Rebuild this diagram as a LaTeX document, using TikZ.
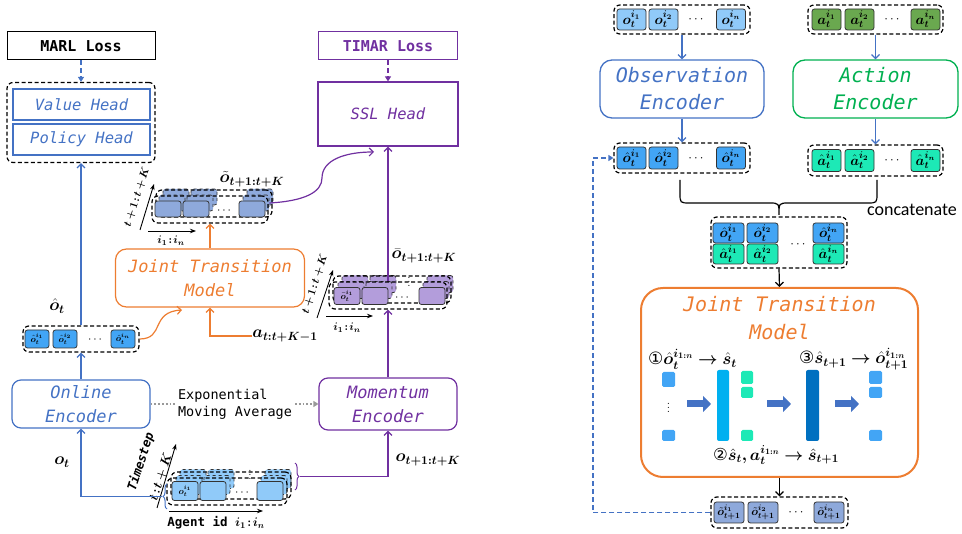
\RequirePackage{fix-cm}
\documentclass[tikz,border=0pt]{standalone}
\usepackage{amsmath}
\usepackage{bm}
\usepackage{fontspec}
\setmonofont{DejaVu Sans Mono}
\newfontfamily\calibfont{Carlito}
\newfontfamily\djvfont{DejaVu Sans}
\usetikzlibrary{arrows.meta,decorations.pathreplacing,calc}
\definecolor{blueL}{HTML}{4472C4}
\definecolor{purL}{HTML}{7030A0}
\definecolor{oraL}{HTML}{ED7D31}
\definecolor{grnL}{HTML}{00B050}
\definecolor{cRaw}{HTML}{90CAF9}
\definecolor{cHat}{HTML}{42A5F5}
\definecolor{cAct}{HTML}{6AA84F}
\definecolor{cAhat}{HTML}{1DE9B6}
\definecolor{cTil}{HTML}{8EA9DB}
\definecolor{cPur}{HTML}{B39DDB}
\definecolor{barA}{HTML}{00B0F0}
\definecolor{barB}{HTML}{0070C0}
\newcommand{\myfs}[1]{\fontsize{#1}{#1}\selectfont}
\begin{document}
\begin{tikzpicture}[x=1pt,y=-1pt,
  myarr/.style={-{Straight Barb[length=4pt,width=8pt]}},
  myfarr/.style={-{Triangle[length=5pt,width=6pt]}},
  longdash/.style={dash pattern=on 5pt off 3pt},
  mycont/.style={draw=black, line width=1.2pt, dash pattern=on 4pt off 2.5pt, rounded corners=6pt, inner sep=0pt},
  mycell/.style={draw=black!80, line width=0.8pt, rounded corners=2.5pt, inner sep=0pt},
  lossbox/.style={draw, line width=1pt, minimum height=28pt, font=\ttfamily\bfseries\myfs{15}},
  headbox/.style={draw=blueL, text=blueL, line width=1.2pt, minimum width=137pt, minimum height=31pt, font=\ttfamily\itshape\myfs{15.5}},
  encbox/.style={draw, rounded corners=9pt, line width=1.2pt, align=center, font=\ttfamily\itshape\fontsize{17}{24}\selectfont},
  bigenc/.style={draw, rounded corners=12pt, line width=1.3pt, align=center, font=\ttfamily\itshape\fontsize{20}{27}\selectfont},
  mlab/.style={inner sep=0pt, font=\myfs{17}},
  axlab/.style={inner sep=0pt, font=\myfs{11}},
  thick arrow/.style={line width=7pt, -{Triangle[length=8pt,width=16pt]}, blueL},
]
\useasboundingbox (0,0) rectangle (962,534);

%================ LEFT =================
\node[lossbox, minimum width=148pt] (marl) at (81,46) {MARL Loss};
\node[mycont, minimum width=148pt, minimum height=80pt] (headsc) at (81,122.5) {};
\node[headbox] (value) at (81.5,104.5) {Value Head};
\node[headbox] (policy) at (81.5,139.5) {Policy Head};
\draw[blueL, longdash, line width=1.2pt, myfarr] (marl.south) -- (headsc.north);

% o-hat container
\node[mycont, minimum width=116pt, minimum height=26pt] (ohc) at (81,339) {};
\foreach \cx/\s [count=\i] in {37/1,65/2,123/n}
  \node[mycell, fill=cHat, minimum width=24pt, minimum height=18pt, font=\myfs{9}] (oh\i) at (\cx,339) {$\bm{\hat o_t^{i_{\s}}}$};
\node[font=\myfs{12}, inner sep=0pt] (ohd) at (96,340) {$\cdots$};
\node[mlab] (ohlab) at (57,306) {$\bm{\hat o_t}$};
\draw[blueL, line width=1.2pt, myarr] (ohc.north) -- (headsc.south);

% encoders
\node[encbox, draw=blueL, text=blueL, minimum width=138pt, minimum height=48pt] (online) at (81,404) {Online\\Encoder};
\node[encbox, draw=purL, text=purL, minimum width=138pt, minimum height=52pt] (momentum) at (388,404) {Momentum\\Encoder};
\draw[blueL, line width=1.2pt, myarr] (online.north) -- (ohc.south);
\draw[gray!80, dotted, line width=1.8pt, myfarr] (online.east) -- (momentum.west);
\node[fill=white, inner sep=1pt, align=left, font=\ttfamily\fontsize{13.5}{17}\selectfont] (ema) at (235,404) {Exponential\\Moving Average};

% bottom stack
\foreach \cx [count=\i] in {185,213,270}
  \node[mycell, dashed, fill=cRaw, minimum width=26pt, minimum height=19pt] (bs2-\i) at (\cx+8,491-12) {};
\node[mycont, minimum width=120pt, minimum height=27pt] (bsc1) at (231,485.5) {};
\foreach \cx [count=\i] in {185,213,270}
  \node[mycell, dashed, fill=cRaw, minimum width=26pt, minimum height=19pt] (bs1-\i) at (\cx+4,491-6) {};
\node[mycont, minimum width=120pt, minimum height=27pt] (bsc) at (227,491.5) {};
\node[mycell, fill=cRaw, minimum width=26pt, minimum height=19pt, font=\myfs{9}] (bs0-1) at (185,491) {$\bm{o_t^{i_1}}$};
\node[mycell, fill=cRaw, minimum width=26pt, minimum height=19pt] (bs0-2) at (213,491) {};
\node[mycell, fill=cRaw, minimum width=26pt, minimum height=19pt] (bs0-3) at (270,491) {};
\node[font=\myfs{12}, inner sep=0pt] (bsd) at (243,493) {$\cdots$};
\node[font=\myfs{12}, inner sep=0pt] (bsd2) at (250,472) {$\vdots$};
\draw[black, line width=0.9pt, -{Stealth[length=6pt]}] (157,508) -- (176,444);
\draw[black, line width=0.9pt, -{Stealth[length=6pt]}] (169,511) -- (263,511);
\node[rotate=72, inner sep=0pt, font=\ttfamily\bfseries\itshape\myfs{12.5}] (tslab) at (141,462) {Timestep};
\node[rotate=72, inner sep=0pt, font=\myfs{13}] (tklab) at (161,477) {$\bm{t\!:\!t+K}$};
\node[inner sep=0pt, font=\ttfamily\bfseries\myfs{12.5}] (aglab) at (216,523) {Agent id $\bm{i_1\!:\!i_n}$};
\draw[blueL, line width=1pt, decorate, decoration={brace, amplitude=4pt}] (167,509) -- (167,484);
\coordinate (bb) at (162,496.5);
\draw[blueL, line width=1.2pt, myarr] (bb) -| (online.south);
\node[mlab] (otlab) at (62,462) {$\bm{o_t}$};
\draw[purL, line width=1pt, decorate, decoration={brace, amplitude=4pt}] (295,463) -- (295,490);
\coordinate (pb) at (300,476.5);
\draw[purL, line width=1.2pt, myarr] (pb) -| (momentum.south);
\node[mlab] (oklab) at (428,460) {$\bm{o_{t+1:t+K}}$};

% purple stack
\foreach \cx [count=\i] in {347,375,432}
  \node[mycell, dashed, fill=cPur, minimum width=26pt, minimum height=17pt] (ps2-\i) at (\cx+8,296-12) {};
\node[mycont, minimum width=118pt, minimum height=27pt] (pc1) at (392,289.5) {};
\foreach \cx [count=\i] in {347,375,432}
  \node[mycell, dashed, fill=cPur, minimum width=26pt, minimum height=17pt] (ps1-\i) at (\cx+4,296-6) {};
\node[mycont, minimum width=118pt, minimum height=27pt] (pc) at (388,295.5) {};
\node[mycell, fill=cPur, minimum width=26pt, minimum height=17pt, font=\myfs{9}] (ps0-1) at (347,296) {$\bm{\bar o_t^{i_1}}$};
\node[mycell, fill=cPur, minimum width=26pt, minimum height=17pt] (ps0-2) at (375,296) {};
\node[mycell, fill=cPur, minimum width=26pt, minimum height=17pt] (ps0-3) at (432,296) {};
\node[font=\myfs{12}, inner sep=0pt] (psd) at (403,298) {$\cdots$};
\node[font=\myfs{12}, inner sep=0pt] (psd2) at (409,279) {$\vdots$};
\draw[black, line width=0.9pt, -{Stealth[length=6pt]}] (317,318) -- (333,270);
\draw[black, line width=0.9pt, -{Stealth[length=6pt]}] (326,316) -- (373,316);
\node[rotate=72, axlab] (pklab) at (315,284) {$\bm{t+1\!:\!t+K}$};
\node[axlab] (pilab) at (347,328) {$\bm{i_1\!:\!i_n}$};
\node[mlab] (pclab) at (424,256) {$\bm{\bar o_{t+1:t+K}}$};
\draw[purL, line width=1.2pt, myarr] (momentum.north) -- (pc.south);

% SSL / TIMAR
\node[draw=purL, text=purL, line width=1.2pt, minimum width=140pt, minimum height=64pt, font=\ttfamily\itshape\myfs{15.5}] (ssl) at (388,114) {SSL Head};
\node[lossbox, draw=purL, text=purL, minimum width=139pt] (timar) at (388,46) {TIMAR Loss};
\draw[purL, longdash, line width=1.2pt, myfarr] (timar.south) -- (ssl.north);
\draw[purL, line width=1.2pt, myarr] (pc.north) -- (ssl.south);

% tilde stack
\foreach \cx [count=\i] in {168,196,252}
  \node[mycell, dashed, fill=cTil, minimum width=26pt, minimum height=16pt] (ts2-\i) at (\cx+8,209-12) {};
\node[mycont, minimum width=116pt, minimum height=27pt] (tc1) at (214,203.5) {};
\foreach \cx [count=\i] in {168,196,252}
  \node[mycell, dashed, fill=cTil, minimum width=26pt, minimum height=16pt] (ts1-\i) at (\cx+4,209-6) {};
\node[mycont, minimum width=116pt, minimum height=27pt] (tc) at (210,209.5) {};
\foreach \cx [count=\i] in {168,196,252}
  \node[mycell, fill=cTil, minimum width=26pt, minimum height=16pt] (ts0-\i) at (\cx,209) {};
\node[font=\myfs{12}, inner sep=0pt] (tsd) at (225,211) {$\cdots$};
\draw[black, line width=0.9pt, -{Stealth[length=6pt]}] (140,230) -- (154,184);
\draw[black, line width=0.9pt, -{Stealth[length=6pt]}] (148,231) -- (196,231);
\node[rotate=72, axlab] (tklab2) at (137,197) {$\bm{t+1\!:\!t+K}$};
\node[axlab] (tilab) at (171,241) {$\bm{i_1\!:\!i_n}$};
\node[mlab] (tclab) at (252,179) {$\bm{\tilde o_{t+1:t+K}}$};
\coordinate (sin) at (374,152);
\draw[purL, line width=1.2pt, myarr] (ts1-3.east) .. controls (305,201) and (322,192) .. (322,178) .. controls (322,160) and (345,152) .. (sin);

% joint transition model (left)
\node[encbox, draw=oraL, text=oraL, rounded corners=11pt, minimum width=189pt, minimum height=58pt] (jtmL) at (210,278) {Joint Transition\\Model};
\draw[oraL, line width=1.2pt, myarr] (jtmL.north) -- (tc.south);
\node[mlab] (alab) at (285,336) {$\bm{a_{t:t+K-1}}$};
\draw[oraL, line width=1.2pt, myarr] (alab.west) -| (jtmL.south);
\coordinate (jin) at (182,310);
\draw[oraL, line width=1.2pt, myarr] (ohc.east) .. controls (165,339) and (150,312) .. (jin);

%================ RIGHT =================
\node[mycont, minimum width=136pt, minimum height=29pt] (orc) at (682,19.5) {};
\foreach \cx/\s [count=\i] in {631.5/1,663.5/2,731/n}
  \node[mycell, fill=cRaw, minimum width=29pt, minimum height=21pt, font=\myfs{14}] (or\i) at (\cx,19.5) {$\bm{o_t^{i_{\s}}}$};
\node[font=\myfs{13}, inner sep=0pt] (ord) at (697,20) {$\cdots$};
\node[mycont, minimum width=135pt, minimum height=29pt] (arc) at (875.5,19.5) {};
\foreach \cx/\s [count=\i] in {826.5/1,859.5/2,925.5/n}
  \node[mycell, fill=cAct, minimum width=29pt, minimum height=21pt, font=\myfs{14}] (ar\i) at (\cx,19.5) {$\bm{a_t^{i_{\s}}}$};
\node[font=\myfs{13}, inner sep=0pt] (ard) at (893,20) {$\cdots$};

\node[bigenc, draw=blueL, text=blueL, minimum width=164pt, minimum height=58pt] (obsenc) at (682,89) {Observation\\Encoder};
\node[bigenc, draw=grnL, text=grnL, minimum width=165pt, minimum height=58pt] (actenc) at (875.5,89) {Action\\Encoder};
\draw[blueL, line width=1.2pt, myarr] (orc.south) -- (obsenc.north);
\draw[blueL, line width=1.2pt, myarr] (arc.south) -- (actenc.north);

\node[mycont, minimum width=136pt, minimum height=30pt] (eoc) at (682,158) {};
\foreach \cx/\s [count=\i] in {631.5/1,663.5/2,731/n}
  \node[mycell, fill=cHat, minimum width=29pt, minimum height=22pt, font=\myfs{14}] (eo\i) at (\cx,158) {$\bm{\hat o_t^{i_{\s}}}$};
\node[font=\myfs{13}, inner sep=0pt] (eod) at (697,159) {$\cdots$};
\node[mycont, minimum width=135pt, minimum height=31pt] (eac) at (875.5,160.5) {};
\foreach \cx/\s [count=\i] in {826.5/1,859.5/2,925.5/n}
  \node[mycell, fill=cAhat, minimum width=29pt, minimum height=22pt, font=\myfs{14}] (ea\i) at (\cx,160.5) {$\bm{\hat a_t^{i_{\s}}}$};
\node[font=\myfs{13}, inner sep=0pt] (ead) at (893,161) {$\cdots$};
\draw[blueL, line width=1.2pt, myarr] (obsenc.south) -- (eoc.north);
\draw[blueL, line width=1.2pt, myarr] (actenc.south) -- (eac.north);

% brace
\draw[line width=1.2pt] (680,180) -- (680,193) .. controls (680,203) .. (690,203) -- (769,203) .. controls (779,203) .. (779,215) .. controls (779,203) .. (789,203) -- (867,203) .. controls (877,203) .. (877,193) -- (877,180);
\node[inner sep=0pt, font=\calibfont\myfs{18}] (concat) at (912,210) {concatenate};

% concatenated
\node[mycont, minimum width=136pt, minimum height=51pt] (cc) at (779,242.5) {};
\foreach \cx/\s [count=\i] in {728.5/1,762.5/2,828.5/n} {
  \node[mycell, fill=cHat, minimum width=31pt, minimum height=20pt, font=\myfs{14}] (co\i) at (\cx,233) {$\bm{\hat o_t^{i_{\s}}}$};
  \node[mycell, fill=cAhat, minimum width=31pt, minimum height=20pt, font=\myfs{14}] (ca\i) at (\cx,254) {$\bm{\hat a_t^{i_{\s}}}$};
}
\node[font=\myfs{13}, inner sep=0pt] (ccd) at (799,245) {$\cdots$};

% JTM right
\node[draw=oraL, line width=2pt, rounded corners=22pt, minimum width=277pt, minimum height=189pt] (jtmR) at (779.5,382.5) {};
\node[text=oraL, align=center, font=\ttfamily\itshape\fontsize{20}{28}\selectfont] (jtmRt) at (779.5,318) {Joint Transition\\Model};
\draw[black, line width=1.2pt, myarr] (cc.south) -- (jtmR.north);

\node[anchor=west, inner sep=0pt, font=\myfs{17}] (st1) at (648,359) {{\djvfont ①}$\bm{\hat o_t^{i_{1:n}}\rightarrow \hat s_t}$};
\node[anchor=west, inner sep=0pt, font=\myfs{17}] (st3) at (799,359) {{\djvfont ③}$\bm{\hat s_{t+1}\rightarrow \hat o_{t+1}^{i_{1:n}}}$};
\node[inner sep=0pt, font=\myfs{16.5}] (st2) at (776,455) {{\djvfont ②}$\bm{\hat s_t, a_t^{i_{1:n}}\rightarrow \hat s_{t+1}}$};

\node[fill=cHat, rounded corners=1.5pt, minimum width=13pt, minimum height=15pt, inner sep=0pt] (q1) at (668.5,379.5) {};
\node[fill=cHat, rounded corners=1.5pt, minimum width=13pt, minimum height=11pt, inner sep=0pt] (q2) at (668.5,435.5) {};
\node[font=\myfs{12}, inner sep=0pt] (qd) at (668.5,405) {$\vdots$};
\node[fill=barA, rounded corners=2pt, minimum width=12pt, minimum height=71pt, inner sep=0pt] (bar1) at (723,405.5) {};
\node[fill=cAhat, rounded corners=1.5pt, minimum width=12pt, minimum height=13pt, inner sep=0pt] (g1) at (747,377.5) {};
\node[fill=cAhat, rounded corners=1.5pt, minimum width=12pt, minimum height=11pt, inner sep=0pt] (g2) at (747,392.5) {};
\node[fill=cAhat, rounded corners=1.5pt, minimum width=12pt, minimum height=11pt, inner sep=0pt] (g3) at (747,435.5) {};
\node[fill=barB, rounded corners=2pt, minimum width=13pt, minimum height=71pt, inner sep=0pt] (bar2) at (812.5,405.5) {};
\node[fill=cHat, rounded corners=1.5pt, minimum width=13pt, minimum height=13pt, inner sep=0pt] (r1) at (875.5,377.5) {};
\node[fill=cHat, rounded corners=1.5pt, minimum width=13pt, minimum height=11pt, inner sep=0pt] (r2) at (875.5,392.5) {};
\node[fill=cHat, rounded corners=1.5pt, minimum width=13pt, minimum height=11pt, inner sep=0pt] (r3) at (875.5,435.5) {};
\coordinate (a1s) at (687,404); \coordinate (a1e) at (711,404);
\coordinate (a2s) at (767,404); \coordinate (a2e) at (791,404);
\coordinate (a3s) at (835,404); \coordinate (a3e) at (859,404);
\draw[thick arrow] (a1s) -- (a1e);
\draw[thick arrow] (a2s) -- (a2e);
\draw[thick arrow] (a3s) -- (a3e);

% output
\node[mycont, minimum width=137pt, minimum height=31pt] (outc) at (779.5,512.5) {};
\foreach \cx/\s [count=\i] in {729/1,763/2,829/n}
  \node[mycell, fill=cTil, minimum width=30pt, minimum height=21pt, font=\myfs{11.5}] (ou\i) at (\cx,512.5) {$\bm{\tilde o_{t+1}^{i_{\s}}}$};
\node[font=\myfs{13}, inner sep=0pt] (oud) at (797,513) {$\cdots$};
\draw[black, line width=1.2pt, myarr] (jtmR.south) -- (outc.north);
\coordinate (fb) at (593,512.5);
\draw[blueL, longdash, line width=1.2pt, myfarr] (outc.west) -- (fb) |- (eoc.west);
\end{tikzpicture}
\end{document}
